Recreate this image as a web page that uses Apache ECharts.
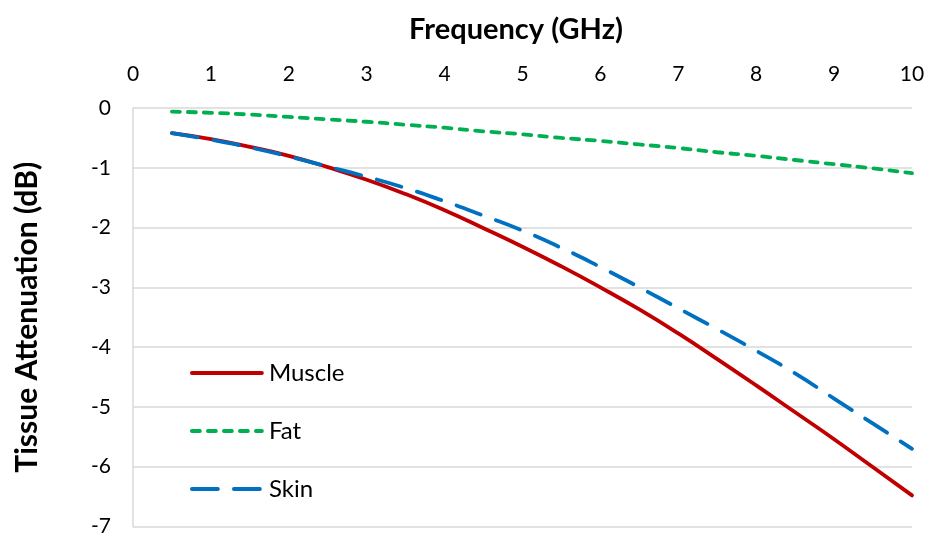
<!DOCTYPE html>
<html>
<head>
<meta charset="utf-8">
<script src="https://cdn.jsdelivr.net/npm/echarts@6/dist/echarts.min.js"></script>
<style>html,body{margin:0;padding:0;background:#fff}#c{width:928px;height:537px}</style>
</head>
<body>
<div id="c"></div>
<script>
const freq = [0.5,1,1.5,2,2.5,3,3.5,4,4.5,5,5.5,6,6.5,7,7.5,8,8.5,9,9.5,10];
const muscle = [-0.42,-0.52,-0.65,-0.80,-0.99,-1.20,-1.44,-1.71,-2.01,-2.32,-2.65,-3.00,-3.37,-3.77,-4.20,-4.64,-5.09,-5.54,-6.01,-6.48];
const fat = [-0.06,-0.08,-0.11,-0.15,-0.19,-0.23,-0.28,-0.33,-0.39,-0.44,-0.50,-0.55,-0.61,-0.67,-0.74,-0.80,-0.87,-0.94,-1.01,-1.09];
const skin = [-0.42,-0.53,-0.66,-0.81,-0.98,-1.15,-1.34,-1.56,-1.80,-2.05,-2.34,-2.66,-3.00,-3.35,-3.70,-4.06,-4.44,-4.86,-5.28,-5.70];
const seriesNames = ['Muscle','Fat','Skin'];
const xTitle = 'Frequency (GHz)';
const yTitle = 'Tissue Attenuation (dB)';

const pair = (ys) => freq.map((f,i)=>[f, ys[i]]);
const FONT = 'Lato, "Open Sans", sans-serif';
const chart = echarts.init(document.getElementById('c'));
chart.setOption({
  animation:false,
  backgroundColor:'#fff',
  grid:{left:133,right:16,top:108,bottom:9},
  title:[{
    text:xTitle, left:511, top:10, textAlign:'center',
    textStyle:{fontFamily:FONT,fontSize:29,fontWeight:'bold',color:'#000'}
  }],
  legend:{
    orient:'vertical', left:185, top:356, itemWidth:70, itemHeight:14, itemGap:34,
    itemStyle:{opacity:0},
    lineStyle:{width:3.8},
    textStyle:{fontFamily:FONT,fontSize:24,lineHeight:24,color:'#000',padding:[0,0,0,2]},
    data:seriesNames
  },
  xAxis:{
    type:'value', position:'top', min:0, max:10, interval:1,
    axisLine:{show:false}, axisTick:{show:false}, splitLine:{show:false},
    axisLabel:{fontFamily:FONT,fontSize:21,color:'#000',margin:23}
  },
  yAxis:{
    type:'value', min:-7, max:0, interval:1,
    name:yTitle, nameLocation:'middle', nameGap:91, nameRotate:90,
    nameTextStyle:{fontFamily:FONT,fontSize:30,fontWeight:'bold',color:'#000'},
    axisLine:{show:true,lineStyle:{color:'#d9d9d9',width:1.5}},
    axisTick:{show:false},
    splitLine:{lineStyle:{color:'#d9d9d9',width:1.5}},
    axisLabel:{fontFamily:FONT,fontSize:21,color:'#000',margin:22}
  },
  series:[
    {name:seriesNames[0],type:'line',smooth:true,showSymbol:false,symbol:'none',data:pair(muscle),
     lineStyle:{color:'#C00000',width:3.8,cap:'round'},itemStyle:{color:'#C00000'}},
    {name:seriesNames[1],type:'line',smooth:true,showSymbol:false,symbol:'none',data:pair(fat),
     lineStyle:{color:'#00B050',width:3.8,type:[8,8],cap:'round'},itemStyle:{color:'#00B050'}},
    {name:seriesNames[2],type:'line',smooth:true,showSymbol:false,symbol:'none',data:pair(skin),
     lineStyle:{color:'#0070C0',width:3.8,type:[26,16],cap:'round'},itemStyle:{color:'#0070C0'}}
  ]
});
</script>
</body>
</html>
